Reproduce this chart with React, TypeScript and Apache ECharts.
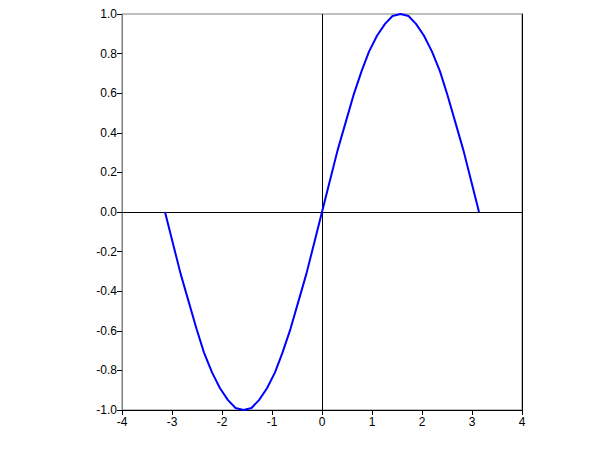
import React, { useEffect, useRef } from "react";
import * as echarts from "echarts";

const xValues = [
  -3.14, -2.98, -2.83, -2.67, -2.51, -2.36, -2.2, -2.04, -1.88, -1.73, -1.57,
  -1.41, -1.26, -1.1, -0.94, -0.79, -0.63, -0.47, -0.31, -0.16, 0.0,
  0.16, 0.31, 0.47, 0.63, 0.79, 0.94, 1.1, 1.26, 1.41, 1.57,
  1.73, 1.88, 2.04, 2.2, 2.36, 2.51, 2.67, 2.83, 2.98, 3.14,
];
const yValues = [
  0.0, -0.16, -0.31, -0.45, -0.59, -0.71, -0.81, -0.89, -0.95, -0.99, -1.0,
  -0.99, -0.95, -0.89, -0.81, -0.71, -0.59, -0.45, -0.31, -0.16, 0.0,
  0.16, 0.31, 0.45, 0.59, 0.71, 0.81, 0.89, 0.95, 0.99, 1.0,
  0.99, 0.95, 0.89, 0.81, 0.71, 0.59, 0.45, 0.31, 0.16, 0.0,
];
const xTicks = [-4, -3, -2, -1, 0, 1, 2, 3, 4];
const yTicks = [-1.0, -0.8, -0.6, -0.4, -0.2, 0.0, 0.2, 0.4, 0.6, 0.8, 1.0];

export default function App() {
  const ref = useRef<HTMLDivElement>(null);
  useEffect(() => {
    if (!ref.current) return;
    const chart = echarts.init(ref.current, null, { renderer: "svg" });
    const font = "Liberation Sans, Arial, sans-serif";
    chart.setOption({
      animation: false,
      backgroundColor: "#ffffff",
      grid: {
        left: 122,
        right: 78,
        top: 14,
        bottom: 40,
        show: true,
        borderColor: "#808080",
        borderWidth: 1,
        backgroundColor: "transparent",
      },
      xAxis: {
        type: "value",
        min: xTicks[0],
        max: xTicks[xTicks.length - 1],
        interval: 1,
        axisLine: { show: true, onZero: false, lineStyle: { color: "#000000", width: 1 } },
        axisTick: { show: true, length: 5, lineStyle: { color: "#000000" } },
        axisLabel: {
          color: "#000000",
          fontFamily: font,
          fontSize: 12,
          margin: 6,
          formatter: (v: number) => String(v),
        },
        splitLine: { show: false },
      },
      yAxis: [
        {
          type: "value",
          min: yTicks[0],
          max: yTicks[yTicks.length - 1],
          interval: 0.2,
          axisLine: { show: true, onZero: false, lineStyle: { color: "#808080", width: 1 } },
          axisTick: { show: true, length: 5, lineStyle: { color: "#000000" } },
          axisLabel: {
            color: "#000000",
            fontFamily: font,
            fontSize: 12,
            margin: 5,
            formatter: (v: number) => v.toFixed(1),
          },
          splitLine: { show: false },
        },
        {
          type: "value",
          position: "right",
          min: yTicks[0],
          max: yTicks[yTicks.length - 1],
          interval: 0.2,
          axisLine: { show: true, onZero: false, lineStyle: { color: "#000000", width: 1 } },
          axisTick: { show: false },
          axisLabel: { show: false },
          splitLine: { show: false },
        },
      ],
      series: [
        {
          type: "line",
          data: xValues.map((x, i) => [x, yValues[i]]),
          showSymbol: false,
          smooth: false,
          lineStyle: { color: "#0000ff", width: 2 },
          z: 3,
          markLine: {
            silent: true,
            symbol: ["none", "none"],
            label: { show: false },
            lineStyle: { color: "#000000", width: 1, type: "solid" },
            data: [{ xAxis: 0 }, { yAxis: 0 }],
            z: 2,
          },
        },
      ],
    });
    return () => chart.dispose();
  }, []);
  return (
    <div
      ref={ref}
      style={{ position: "fixed", left: 0, top: 0, width: 600, height: 450 }}
    />
  );
}
